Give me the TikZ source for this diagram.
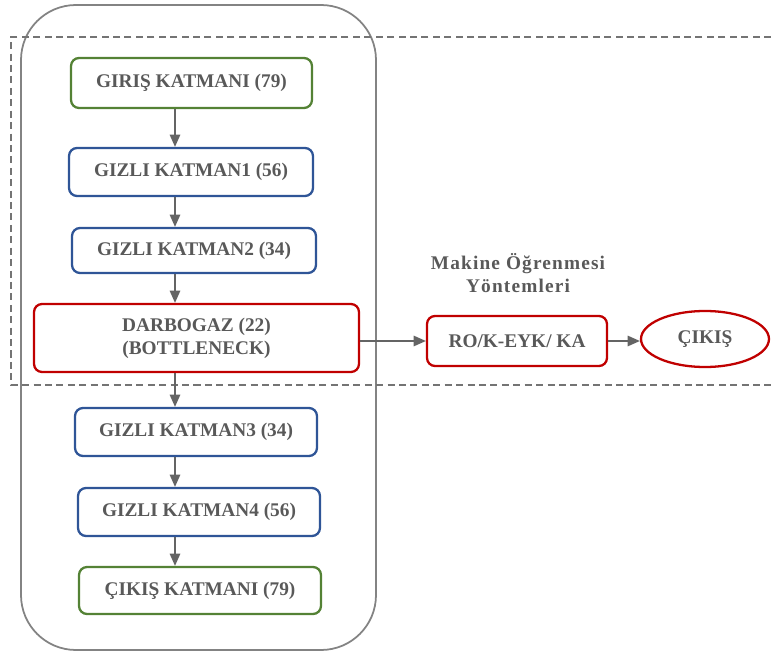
\documentclass[tikz,border=0pt]{standalone}
\usepackage{fontspec}
\setmainfont{Liberation Serif}
\usetikzlibrary{arrows.meta,shapes.geometric}
\definecolor{txtgray}{RGB}{89,89,89}
\definecolor{linegray}{RGB}{100,100,100}
\definecolor{boxgreen}{RGB}{84,130,53}
\definecolor{boxblue}{RGB}{47,85,151}
\definecolor{boxred}{RGB}{192,0,0}
\tikzset{
  layer/.style={draw, line width=1.3pt, rounded corners=0.16cm, fill=white,
    inner sep=0pt, align=center, text=txtgray,
    font=\fontsize{11}{13}\selectfont\bfseries},
  greenbox/.style={layer, draw=boxgreen},
  bluebox/.style={layer, draw=boxblue},
  redbox/.style={layer, draw=boxred},
  arr/.style={-{Triangle[length=7pt,width=6pt]}, linegray, line width=0.8pt},
}
\begin{document}
\begin{tikzpicture}[x=0.02cm,y=-0.02cm]
  \useasboundingbox (0,0) rectangle (771,655);
  % frames
  \draw[linegray!80, line width=1pt, rounded corners=1.1cm] (21,5) rectangle (376,650);
  \draw[linegray!90, line width=0.9pt, dash pattern=on 4pt off 2.5pt]
    (771,37) -- (11,37) -- (11,385) -- (771,385);
  \coordinate (spine) at (175,0);
  % autoencoder layers
  \node[greenbox, minimum width=4.82cm, minimum height=1.00cm] (in) at (191.5,83) {GIRIŞ KATMANI (79)};
  \node[bluebox, minimum width=4.88cm, minimum height=0.96cm] (h1) at (191,172) {GIZLI KATMAN1 (56)};
  \node[bluebox, minimum width=4.88cm, minimum height=0.90cm] (h2) at (194,250.5) {GIZLI KATMAN2 (34)};
  \node[redbox, minimum width=6.50cm, minimum height=1.36cm] (bn) at (196.5,338) {DARBOGAZ (22)\\(BOTTLENECK)};
  \node[bluebox, minimum width=4.84cm, minimum height=0.96cm] (h3) at (196,432) {GIZLI KATMAN3 (34)};
  \node[bluebox, minimum width=4.84cm, minimum height=0.96cm] (h4) at (199,512) {GIZLI KATMAN4 (56)};
  \node[greenbox, minimum width=4.84cm, minimum height=0.94cm] (out) at (200,590.5) {ÇIKIŞ KATMANI (79)};
  % classifier
  \node[redbox, minimum width=3.60cm, minimum height=1.00cm] (ml) at (517,341) {RO/K-EYK/ KA};
  \node[layer, draw=boxred, ellipse, rounded corners=0pt, minimum width=2.56cm, minimum height=1.12cm] (res) at (705,339) {ÇIKIŞ};
  \node[align=center, text=txtgray, font=\fontsize{11}{13}\selectfont\bfseries, inner sep=0pt] (mllabel) at (518,273)
    {\addfontfeature{LetterSpace=6}Makine Öğrenmesi\\\addfontfeature{LetterSpace=6}Yöntemleri};
  % connectors
  \foreach \a/\b in {in/h1, h1/h2, h2/bn, bn/h3, h3/h4, h4/out}
    \draw[arr] (\a.south -| spine) -- (\b.north -| spine);
  \draw[arr] (bn.east |- ml.west) -- (ml.west);
  \draw[arr] (ml.east) -- (res.west |- ml.east);
\end{tikzpicture}
\end{document}
